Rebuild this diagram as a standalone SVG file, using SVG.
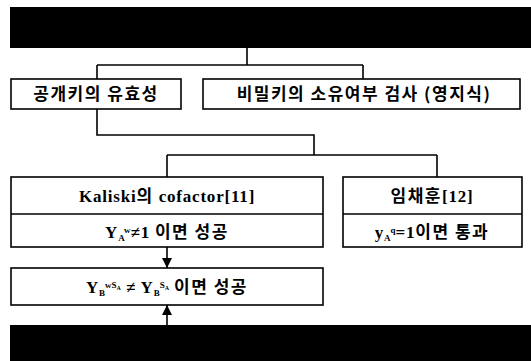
<svg xmlns="http://www.w3.org/2000/svg" width="531" height="361" viewBox="0 0 531 361">
<style>
.box{fill:#fff;stroke:#000;stroke-width:1.6}
.bar{fill:#000}
.ln{fill:none;stroke:#000;stroke-width:1.6}
.k{font-family:"Noto Sans CJK KR","Noto Sans",sans-serif;font-size:17px;font-weight:bold;letter-spacing:1.5px;fill:#000;text-anchor:middle}
.t{font-family:"Liberation Serif","Noto Sans CJK KR",serif;font-size:17px;font-weight:bold;letter-spacing:0.8px;fill:#000;text-anchor:middle}
.h{font-family:"Noto Sans CJK KR","Noto Sans",sans-serif;font-weight:bold;letter-spacing:1.5px}
.s{font-size:9px;letter-spacing:0}
.ss{font-size:6px;letter-spacing:0}
</style>
<defs>
<marker id="ah" viewBox="0 0 10 10" refX="10" refY="5" markerWidth="10" markerHeight="10" markerUnits="userSpaceOnUse" orient="auto">
<path d="M0,0 L10,5 L0,10 z" fill="#000"/>
</marker>
</defs>
<rect x="0" y="0" width="531" height="361" fill="#fff"/>
<g id="top-bar"><rect class="bar" x="10" y="7" width="521" height="41"/></g>
<g id="bottom-bar"><rect class="bar" x="10" y="325" width="521" height="36"/></g>
<g id="connectors">
<path class="ln" d="M247,48 V65 M97,65 H363 M97,65 V79 M363,65 V79"/>
<path class="ln" d="M97,109 V135 H314 V155 M167,155 H437 M167,155 V177 M437,155 V177"/>
<path class="ln" d="M167,247 V268" marker-end="url(#ah)"/>
<path class="ln" d="M167,325 V305" marker-end="url(#ah)"/>
</g>
<g id="pubkey"><rect class="box" x="11" y="79" width="170" height="30"/><text class="k" x="96" y="100">공개키의 유효성</text></g>
<g id="privkey"><rect class="box" x="203" y="79" width="317" height="30"/><text class="k" x="364" y="100">비밀키의 소유여부 검사 (영지식)</text></g>
<g id="kaliski"><rect class="box" x="11" y="177" width="312" height="70"/><line class="ln" x1="11" y1="214" x2="323" y2="214"/>
<text class="t" x="167" y="202">Kaliski<tspan class="h">의</tspan> cofactor[11]</text>
<text class="t" x="167" y="238">Y<tspan class="s" dy="3">A</tspan><tspan class="s" dy="-8">w</tspan><tspan dy="5">≠1 </tspan><tspan class="h">이면 성공</tspan></text></g>
<g id="lim"><rect class="box" x="343" y="177" width="179" height="70"/><line class="ln" x1="343" y1="214" x2="522" y2="214"/>
<text class="t" x="432" y="202"><tspan class="h">임채훈</tspan>[12]</text>
<text class="t" x="432" y="238">y<tspan class="s" dy="3">A</tspan><tspan class="s" dy="-8">q</tspan><tspan dy="5">=1</tspan><tspan class="h">이면 통과</tspan></text></g>
<g id="result"><rect class="box" x="11" y="268" width="312" height="37"/>
<text class="t" x="167" y="293">Y<tspan class="s" dy="3">B</tspan><tspan class="s" dy="-8">wS</tspan><tspan class="ss" dy="2">A</tspan><tspan dy="3"> ≠ Y</tspan><tspan class="s" dy="3">B</tspan><tspan class="s" dy="-8">S</tspan><tspan class="ss" dy="2">A</tspan><tspan dy="3"> </tspan><tspan class="h">이면 성공</tspan></text></g>
</svg>
